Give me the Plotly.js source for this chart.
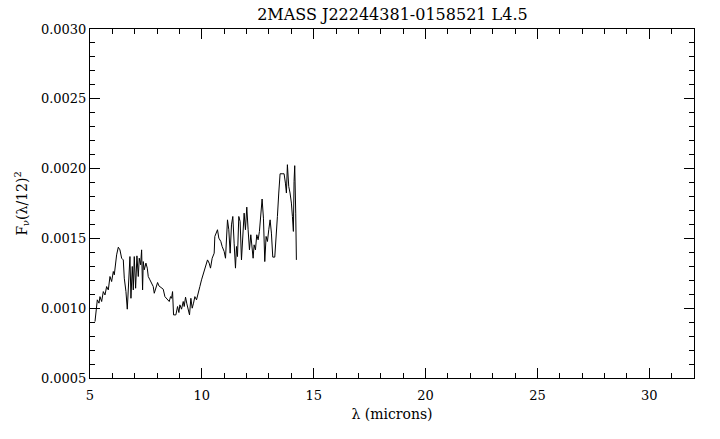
<!DOCTYPE html>
<html>
<head>
<meta charset="utf-8">
<script src="https://cdn.plot.ly/plotly-3.0.1.min.js"></script>
<style>html,body{margin:0;padding:0;background:#fff;}#chart{width:720px;height:439px;}</style>
</head>
<body>
<div id="chart"></div>
<script>
const titleText = "2MASS J22244381-0158521 L4.5";
const xTitle = "λ (microns)";
const yTitle = "F<sub>ν</sub>(λ/12)<sup>2</sup>";

const wavelength = [
 5.223,5.268,5.327,5.402,5.446,5.521,5.595,5.670,5.744,5.818,
 5.893,5.967,6.042,6.086,6.190,6.265,6.339,6.414,6.488,6.533,
 6.607,6.667,6.711,6.786,6.830,6.890,6.935,6.979,7.039,7.098,
 7.158,7.202,7.262,7.307,7.351,7.381,7.426,7.500,7.560,7.604,
 7.679,7.753,7.827,7.872,7.946,8.021,8.080,8.170,8.274,8.348,
 8.467,8.542,8.601,8.646,8.690,8.735,8.839,8.914,8.973,9.018,
 9.092,9.167,9.211,9.271,9.330,9.390,9.449,9.509,9.568,9.628,
 9.688,9.762,9.836,9.911,9.985,10.060,10.134,10.208,10.253,10.327,
 10.387,10.461,10.551,10.580,10.655,10.699,10.759,10.848,10.908,10.997,
 11.057,11.101,11.146,11.205,11.265,11.324,11.384,11.443,11.503,11.548,
 11.592,11.652,11.711,11.771,11.830,11.890,11.949,12.009,12.068,12.128,
 12.188,12.247,12.292,12.336,12.396,12.455,12.515,12.574,12.634,12.693,
 12.753,12.813,12.872,12.932,12.991,13.051,13.110,13.170,13.259,13.318,
 13.378,13.438,13.497,13.586,13.676,13.735,13.780,13.824,13.884,13.943,
 14.003,14.048,14.092,14.122,14.152,14.196,14.226
];
const flux = [
 0.000904,0.001000,0.001060,0.001036,0.001083,0.001048,0.001119,0.001095,0.001155,0.001131,
 0.001227,0.001191,0.001263,0.001239,0.001382,0.001437,0.001418,0.001358,0.001346,0.001215,
 0.001119,0.000993,0.001179,0.001370,0.001071,0.001299,0.001131,0.001370,0.001143,0.001375,
 0.001227,0.001358,0.001311,0.001418,0.001131,0.001334,0.001275,0.001323,0.001287,0.001227,
 0.001203,0.001179,0.001155,0.001107,0.001143,0.001184,0.001160,0.001150,0.001136,0.001083,
 0.001060,0.001048,0.001083,0.001071,0.001119,0.000952,0.000952,0.001012,0.000969,0.001024,
 0.000993,0.001048,0.001012,0.001079,0.001031,0.001000,0.000952,0.001071,0.001000,0.001036,
 0.001083,0.001060,0.001119,0.001155,0.001203,0.001239,0.001275,0.001311,0.001346,0.001323,
 0.001287,0.001358,0.001394,0.001514,0.001550,0.001562,0.001502,0.001478,0.001442,0.001406,
 0.001358,0.001526,0.001633,0.001562,0.001394,0.001597,0.001657,0.001466,0.001287,0.001442,
 0.001370,0.001657,0.001621,0.001346,0.001490,0.001681,0.001562,0.001724,0.001562,0.001418,
 0.001526,0.001442,0.001358,0.001454,0.001418,0.001526,0.001490,0.001550,0.001645,0.001782,
 0.001645,0.001334,0.001514,0.001478,0.001562,0.001633,0.001538,0.001366,0.001366,0.001562,
 0.001657,0.001825,0.001963,0.001963,0.001963,0.001896,0.001825,0.002028,0.001872,0.001825,
 0.001753,0.001657,0.001550,0.001908,0.002021,0.001681,0.001346
];
const xTickVals = [5,10,15,20,25,30];
const yTickVals = [0.0005,0.0010,0.0015,0.0020,0.0025,0.0030];

const font = {family: "DejaVu Serif, Liberation Serif, serif", size: 13, color: "#000"};

const axisCommon = {
  showline: true, linecolor: "#000", linewidth: 1, mirror: "allticks",
  ticks: "inside", ticklen: 10, tickwidth: 1, tickcolor: "#000",
  showgrid: false, zeroline: false, tickfont: font
};

Plotly.newPlot("chart", [{
  x: wavelength, y: flux, type: "scatter", mode: "lines",
  line: {color: "#000", width: 1}, hoverinfo: "skip"
}], {
  width: 720, height: 439,
  margin: {l: 90, r: 26, t: 29, b: 61},
  paper_bgcolor: "#fff", plot_bgcolor: "#fff",
  showlegend: false,
  font: font,
  title: {text: titleText, font: {family: font.family, size: 16, color: "#000"}, x: 0.545, xanchor: "center", y: 0.98, yanchor: "top"},
  xaxis: Object.assign({}, axisCommon, {
    range: [5, 32], tickmode: "array", tickvals: xTickVals, ticktext: xTickVals.map(String),
    ticklabelstandoff: 5,
    minor: {dtick: 1, tick0: 5, ticks: "inside", ticklen: 5, tickcolor: "#000", tickwidth: 1},
    title: {text: xTitle, font: {family: font.family, size: 14, color: "#000"}, standoff: 7}
  }),
  yaxis: Object.assign({}, axisCommon, {
    range: [0.0005, 0.0030], tickmode: "array", tickvals: yTickVals, ticktext: yTickVals.map(v => v.toFixed(4)),
    minor: {dtick: 0.0001, tick0: 0.0005, ticks: "inside", ticklen: 5, tickcolor: "#000", tickwidth: 1},
    title: {text: yTitle, font: {family: font.family, size: 14, color: "#000"}, standoff: 10}
  })
}, {displayModeBar: false, staticPlot: true});
</script>
</body>
</html>
